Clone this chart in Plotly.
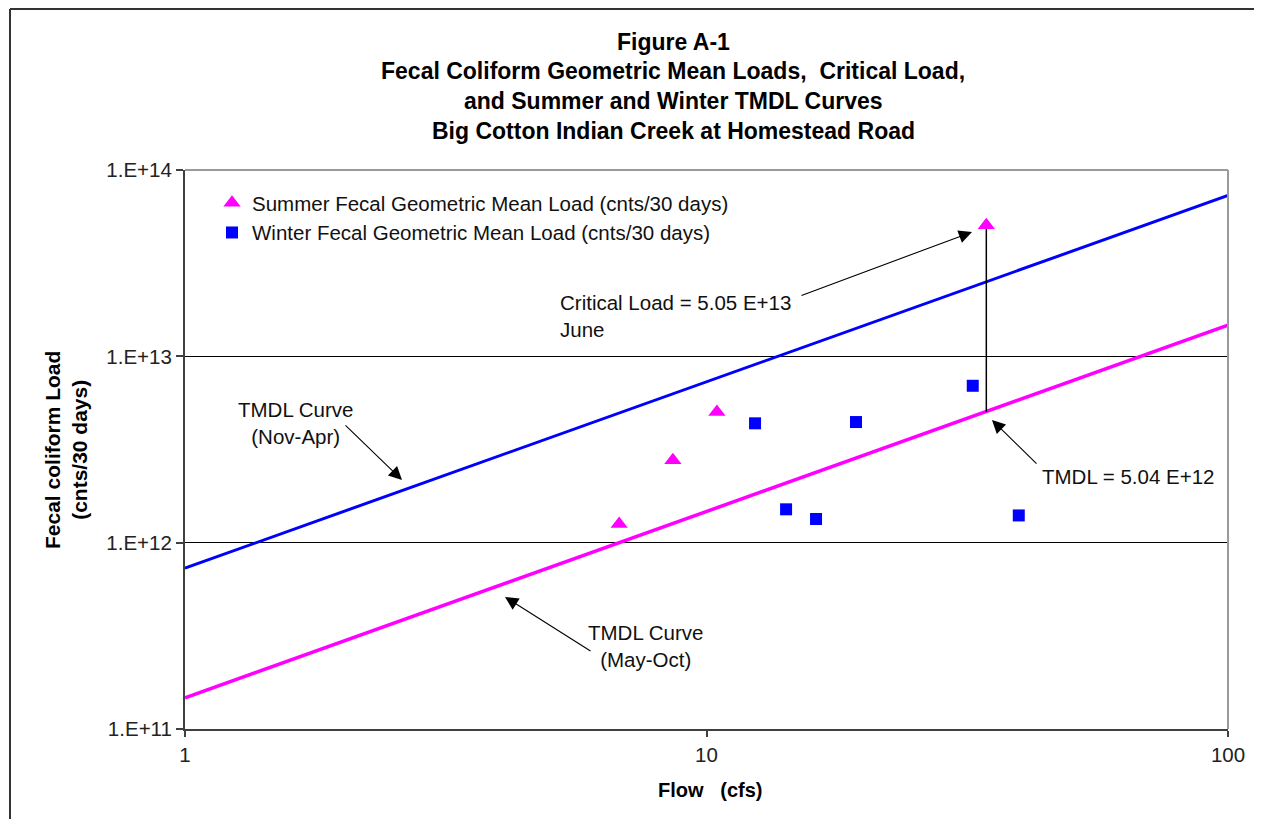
import plotly.graph_objects as go

# ---------------- data ----------------
summer_flow = [6.80, 8.62, 10.47, 34.4]
summer_load = [1.26e12, 2.77e12, 5.02e12, 5.05e13]

winter_flow = [12.39, 14.21, 16.22, 19.35, 32.4, 39.7]
winter_load = [4.37e12, 1.51e12, 1.34e12, 4.44e12, 6.95e12, 1.40e12]

curve_flow = [1, 100]
summer_tmdl_curve = [1.47e11, 1.47e13]
winter_tmdl_curve = [7.3e11, 7.3e13]

critical_flow = [34.4, 34.4]
critical_span = [5.05e13, 5.04e12]

y_tick_vals = [1e11, 1e12, 1e13, 1e14]
y_tick_text = ["1.E+11", "1.E+12", "1.E+13", "1.E+14"]
x_tick_vals = [1, 10, 100]
x_tick_text = ["1", "10", "100"]

title_lines = ["Figure A-1",
               "Fecal Coliform Geometric Mean Loads,  Critical Load,",
               "and Summer and Winter TMDL Curves",
               "Big Cotton Indian Creek at Homestead Road"]

# ---------------- layout helpers (page pixel -> paper) ----------------
OFF = 8                      # page body margin
W, H = 1262 - OFF, 819 - OFF
L, R, T, B = 185, 1228, 170, 729   # plot area in page pixels


def px(x):
    return (x - L) / (R - L)


def py(y):
    return (B - y) / (B - T)


FONT = "Arial, Liberation Sans, sans-serif"
FS = 20.5

fig = go.Figure()

fig.add_trace(go.Scatter(x=curve_flow, y=winter_tmdl_curve, mode="lines",
                         line=dict(color="#0000FF", width=3), showlegend=False,
                         hoverinfo="skip"))
fig.add_trace(go.Scatter(x=curve_flow, y=summer_tmdl_curve, mode="lines",
                         line=dict(color="#FF00FF", width=3.5), showlegend=False,
                         hoverinfo="skip"))
fig.add_trace(go.Scatter(x=critical_flow, y=critical_span, mode="lines",
                         line=dict(color="black", width=1.5), showlegend=False,
                         hoverinfo="skip"))
fig.add_trace(go.Scatter(x=summer_flow, y=summer_load, mode="markers",
                         name="Summer Fecal Geometric Mean Load (cnts/30 days)",
                         marker=dict(symbol="triangle-up", size=15, color="#FF00FF")))
fig.add_trace(go.Scatter(x=winter_flow, y=winter_load, mode="markers",
                         name="Winter Fecal Geometric Mean Load (cnts/30 days)",
                         marker=dict(symbol="square", size=12, color="#0000FF")))

annotations = []
# title lines
for t, yy in zip(title_lines, [42, 71, 101, 131]):
    annotations.append(dict(text="<b>%s</b>" % t, xref="paper", yref="paper",
                            x=px(673), y=py(yy), xanchor="center", yanchor="middle",
                            showarrow=False, font=dict(size=23, color="black", family=FONT)))

# axis titles
annotations.append(dict(text="<b>Fecal coliform Load<br>(cnts/30 days)</b>", xref="paper", yref="paper",
                        x=px(66), y=py(450), xanchor="center", yanchor="middle", textangle=-90,
                        showarrow=False, font=dict(size=21, color="black", family=FONT)))
annotations.append(dict(text="<b>Flow   (cfs)</b>", xref="paper", yref="paper",
                        x=px(710), y=py(790), xanchor="center", yanchor="middle",
                        showarrow=False, font=dict(size=20, color="black", family=FONT)))

# text labels
txt = dict(size=FS, color="#111111", family=FONT)
annotations.append(dict(text="Critical Load = 5.05 E+13<br>June", xref="paper", yref="paper",
                        x=px(558), y=py(316), xanchor="left", yanchor="middle", align="left",
                        showarrow=False, font=txt))
annotations.append(dict(text="TMDL Curve<br>(Nov-Apr)", xref="paper", yref="paper",
                        x=px(295), y=py(423), xanchor="center", yanchor="middle", align="center",
                        showarrow=False, font=txt))
annotations.append(dict(text="TMDL Curve<br>(May-Oct)", xref="paper", yref="paper",
                        x=px(645), y=py(646), xanchor="center", yanchor="middle", align="center",
                        showarrow=False, font=txt))
annotations.append(dict(text="TMDL = 5.04 E+12", xref="paper", yref="paper",
                        x=px(1040), y=py(477), xanchor="left", yanchor="middle", align="left",
                        showarrow=False, font=txt))

# arrows (head, tail in page pixels)
arrows = [((972, 232), (800, 296)),
          ((402, 480), (344, 424)),
          ((505, 597), (592, 652)),
          ((992, 420), (1038, 465))]
for (hx, hy), (tx, ty) in arrows:
    annotations.append(dict(text="", xref="paper", yref="paper", x=px(hx), y=py(hy),
                            ax=tx - hx, ay=ty - hy, showarrow=True, arrowhead=2,
                            arrowsize=2.4, arrowwidth=1.1, arrowcolor="black", standoff=0))

shapes = [
    # plot-area top and right border (gray)
    dict(type="line", xref="paper", yref="paper", x0=0, x1=1, y0=1, y1=1,
         line=dict(color="#9a9a9a", width=2)),
    dict(type="line", xref="paper", yref="paper", x0=1, x1=1, y0=0, y1=1,
         line=dict(color="#9a9a9a", width=2)),
    # outer chart frame (left and top)
    dict(type="line", xref="paper", yref="paper", x0=px(10), x1=px(10), y0=py(9), y1=py(830),
         line=dict(color="#333333", width=2)),
    dict(type="line", xref="paper", yref="paper", x0=px(10), x1=px(1275), y0=py(9), y1=py(9),
         line=dict(color="#333333", width=2)),
]

fig.update_layout(
    width=W, height=H,
    margin=dict(l=L - OFF, r=W - (R - OFF), t=T - OFF, b=H - (B - OFF)),
    paper_bgcolor="white", plot_bgcolor="white",
    font=dict(family=FONT, size=FS, color="#111111"),
    showlegend=True,
    legend=dict(x=px(212), y=py(183), xanchor="left", yanchor="top",
                bgcolor="rgba(0,0,0,0)", font=dict(size=FS, color="#111111", family=FONT),
                itemwidth=30, tracegroupgap=0),
    annotations=annotations,
    shapes=shapes,
    xaxis=dict(type="log", range=[0, 2], tickvals=x_tick_vals, ticktext=x_tick_text,
               showgrid=False, zeroline=False, showline=True, linecolor="#404040", linewidth=2,
               ticks="outside", ticklen=6, tickcolor="#404040", tickwidth=1.5,
               tickfont=dict(size=FS, color="#222222", family=FONT)),
    yaxis=dict(type="log", range=[11, 14], tickvals=y_tick_vals, ticktext=y_tick_text,
               showgrid=True, gridcolor="black", gridwidth=1, zeroline=False,
               showline=True, linecolor="#404040", linewidth=2,
               ticks="outside", ticklen=7, tickcolor="#404040", tickwidth=1.5,
               tickfont=dict(size=FS, color="#222222", family=FONT)),
)

fig.write_html("out.html")
